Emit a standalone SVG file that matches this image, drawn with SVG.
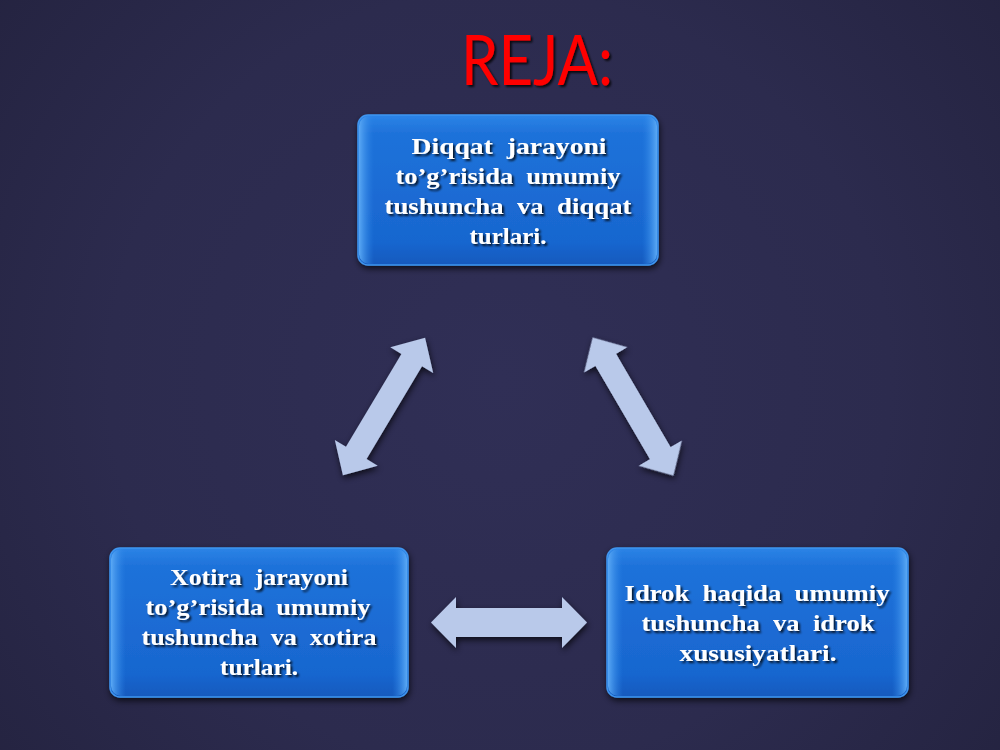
<svg xmlns="http://www.w3.org/2000/svg" width="1000" height="750" viewBox="0 0 1000 750">
<defs>
  <radialGradient id="bg" cx="500" cy="380" r="650" gradientUnits="userSpaceOnUse">
    <stop offset="0" stop-color="#302f56"/>
    <stop offset="0.6" stop-color="#2c2b4e"/>
    <stop offset="1" stop-color="#242340"/>
  </radialGradient>
  <linearGradient id="box" x1="0" y1="0" x2="0" y2="1">
    <stop offset="0" stop-color="#2b84e6"/>
    <stop offset="0.12" stop-color="#1f72da"/>
    <stop offset="0.85" stop-color="#1866cf"/>
    <stop offset="1" stop-color="#1259bd"/>
  </linearGradient>
  <linearGradient id="edge" x1="0" y1="0" x2="1" y2="0">
    <stop offset="0" stop-color="#5aa8f4"/>
    <stop offset="0.05" stop-color="#2b84e6" stop-opacity="0"/>
    <stop offset="0.95" stop-color="#2b84e6" stop-opacity="0"/>
    <stop offset="1" stop-color="#5aa8f4"/>
  </linearGradient>
  <filter id="shadow" x="-10%" y="-10%" width="120%" height="125%">
    <feGaussianBlur in="SourceAlpha" stdDeviation="3"/>
    <feOffset dx="1" dy="3" result="b"/>
    <feComponentTransfer><feFuncA type="linear" slope="0.7"/></feComponentTransfer>
    <feMerge><feMergeNode/><feMergeNode in="SourceGraphic"/></feMerge>
  </filter>
  <filter id="tshadow" x="-10%" y="-10%" width="120%" height="130%">
    <feGaussianBlur in="SourceAlpha" stdDeviation="1"/>
    <feOffset dx="1.5" dy="2" result="b"/>
    <feComponentTransfer><feFuncA type="linear" slope="0.8"/></feComponentTransfer>
    <feMerge><feMergeNode/><feMergeNode in="SourceGraphic"/></feMerge>
  </filter>
  <path id="darrow" d="M -80,0 L -54,-25 L -54,-12 L 54,-12 L 54,-25 L 80,0 L 54,25 L 54,12 L -54,12 L -54,25 Z"/>
</defs>
<style>
  .box { fill: url(#box); stroke: #3f95ee; stroke-width: 1.5; }
  .shine { fill: url(#edge); }
  .lbl { font-family: "Liberation Serif", "Times New Roman", serif; font-weight: bold; font-size: 23px; fill: #ffffff; text-anchor: middle; white-space: pre; }
  .arrow { fill: #b9c9ea; }
</style>
<rect width="1000" height="750" fill="url(#bg)"/>

<g id="title" filter="url(#tshadow)">
  <text x="537" y="85" font-family="Lato, 'Liberation Sans', Arial, sans-serif" font-size="69" fill="#ff0000" text-anchor="middle" textLength="152" lengthAdjust="spacingAndGlyphs">REJA:</text>
</g>

<g id="connectors" filter="url(#shadow)">
  <use href="#darrow" class="arrow" transform="translate(384,406.5) rotate(-59.1)"/>
  <use href="#darrow" class="arrow" transform="translate(633,406.5) rotate(59.7)"/>
  <path class="arrow" d="M 431,622.5 L 456,597 L 456,608 L 562,608 L 562,597 L 587,622.5 L 562,648 L 562,637 L 456,637 L 456,648 Z"/>
</g>

<g id="node-diqqat">
  <g filter="url(#shadow)"><rect class="box" x="358" y="115" width="300" height="150" rx="10"/></g>
  <rect class="shine" x="359" y="116" width="298" height="148" rx="10"/>
  <g filter="url(#tshadow)">
    <text class="lbl" x="509" y="154" textLength="195" lengthAdjust="spacingAndGlyphs" xml:space="preserve">Diqqat  jarayoni</text>
    <text class="lbl" x="508" y="184" textLength="225" lengthAdjust="spacingAndGlyphs" xml:space="preserve">to’g’risida  umumiy</text>
    <text class="lbl" x="508" y="214" textLength="247" lengthAdjust="spacingAndGlyphs" xml:space="preserve">tushuncha  va  diqqat</text>
    <text class="lbl" x="508" y="244" textLength="77" lengthAdjust="spacingAndGlyphs">turlari.</text>
  </g>
</g>

<g id="node-xotira">
  <g filter="url(#shadow)"><rect class="box" x="110" y="548" width="298" height="149" rx="10"/></g>
  <rect class="shine" x="111" y="549" width="296" height="147" rx="10"/>
  <g filter="url(#tshadow)">
    <text class="lbl" x="259" y="585" textLength="178" lengthAdjust="spacingAndGlyphs" xml:space="preserve">Xotira  jarayoni</text>
    <text class="lbl" x="258" y="615" textLength="225" lengthAdjust="spacingAndGlyphs" xml:space="preserve">to’g’risida  umumiy</text>
    <text class="lbl" x="259" y="645" textLength="235" lengthAdjust="spacingAndGlyphs" xml:space="preserve">tushuncha  va  xotira</text>
    <text class="lbl" x="259" y="675" textLength="78" lengthAdjust="spacingAndGlyphs">turlari.</text>
  </g>
</g>

<g id="node-idrok">
  <g filter="url(#shadow)"><rect class="box" x="607" y="548" width="301" height="149" rx="10"/></g>
  <rect class="shine" x="608" y="549" width="299" height="147" rx="10"/>
  <g filter="url(#tshadow)">
    <text class="lbl" x="757" y="601" textLength="265" lengthAdjust="spacingAndGlyphs" xml:space="preserve">Idrok  haqida  umumiy</text>
    <text class="lbl" x="758" y="631" textLength="233" lengthAdjust="spacingAndGlyphs" xml:space="preserve">tushuncha  va  idrok</text>
    <text class="lbl" x="758" y="661" textLength="157" lengthAdjust="spacingAndGlyphs">xususiyatlari.</text>
  </g>
</g>
</svg>
